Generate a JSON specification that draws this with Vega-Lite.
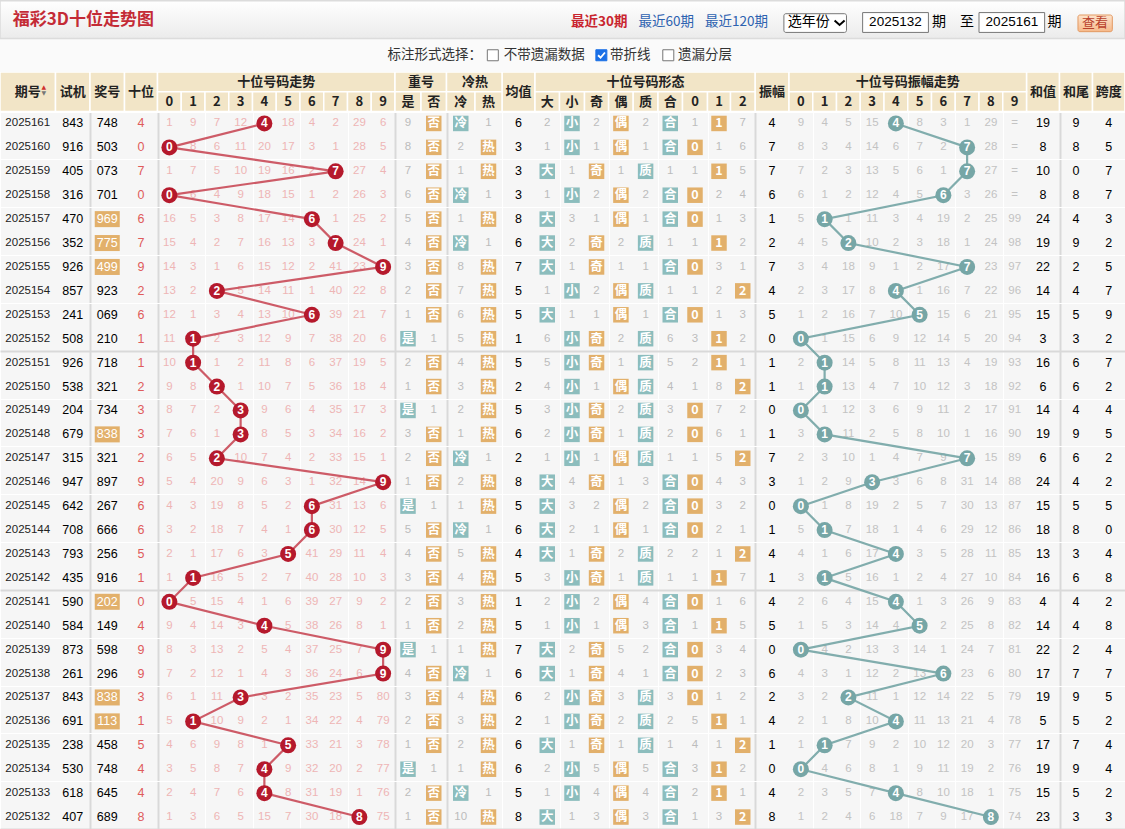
{
"$schema":"https://vega.github.io/schema/vega-lite/v6.json",
"width":1125,"height":829,"padding":0,"autosize":{"type":"none"},
"background":"#ffffff",
"config":{"view":{"stroke":null,"fill":"#f6f6f6"},"text":{"font":"Liberation Sans","baseline":"middle"}},
"datasets":{
"draws":[
{"r":0,"qh":"2025161","sj":"843","jh":"748","zx":"组六","sw":4,"jz":6,"zf":4,"hz":19,"hw":9,"kd":4},
{"r":1,"qh":"2025160","sj":"916","jh":"503","zx":"组六","sw":0,"jz":3,"zf":7,"hz":8,"hw":8,"kd":5},
{"r":2,"qh":"2025159","sj":"405","jh":"073","zx":"组六","sw":7,"jz":3,"zf":7,"hz":10,"hw":0,"kd":7},
{"r":3,"qh":"2025158","sj":"316","jh":"701","zx":"组六","sw":0,"jz":3,"zf":6,"hz":8,"hw":8,"kd":7},
{"r":4,"qh":"2025157","sj":"470","jh":"969","zx":"组三","sw":6,"jz":8,"zf":1,"hz":24,"hw":4,"kd":3},
{"r":5,"qh":"2025156","sj":"352","jh":"775","zx":"组三","sw":7,"jz":6,"zf":2,"hz":19,"hw":9,"kd":2},
{"r":6,"qh":"2025155","sj":"926","jh":"499","zx":"组三","sw":9,"jz":7,"zf":7,"hz":22,"hw":2,"kd":5},
{"r":7,"qh":"2025154","sj":"857","jh":"923","zx":"组六","sw":2,"jz":5,"zf":4,"hz":14,"hw":4,"kd":7},
{"r":8,"qh":"2025153","sj":"241","jh":"069","zx":"组六","sw":6,"jz":5,"zf":5,"hz":15,"hw":5,"kd":9},
{"r":9,"qh":"2025152","sj":"508","jh":"210","zx":"组六","sw":1,"jz":1,"zf":0,"hz":3,"hw":3,"kd":2},
{"r":10,"qh":"2025151","sj":"926","jh":"718","zx":"组六","sw":1,"jz":5,"zf":1,"hz":16,"hw":6,"kd":7},
{"r":11,"qh":"2025150","sj":"538","jh":"321","zx":"组六","sw":2,"jz":2,"zf":1,"hz":6,"hw":6,"kd":2},
{"r":12,"qh":"2025149","sj":"204","jh":"734","zx":"组六","sw":3,"jz":5,"zf":0,"hz":14,"hw":4,"kd":4},
{"r":13,"qh":"2025148","sj":"679","jh":"838","zx":"组三","sw":3,"jz":6,"zf":1,"hz":19,"hw":9,"kd":5},
{"r":14,"qh":"2025147","sj":"315","jh":"321","zx":"组六","sw":2,"jz":2,"zf":7,"hz":6,"hw":6,"kd":2},
{"r":15,"qh":"2025146","sj":"947","jh":"897","zx":"组六","sw":9,"jz":8,"zf":3,"hz":24,"hw":4,"kd":2},
{"r":16,"qh":"2025145","sj":"642","jh":"267","zx":"组六","sw":6,"jz":5,"zf":0,"hz":15,"hw":5,"kd":5},
{"r":17,"qh":"2025144","sj":"708","jh":"666","zx":"豹子","sw":6,"jz":6,"zf":1,"hz":18,"hw":8,"kd":0},
{"r":18,"qh":"2025143","sj":"793","jh":"256","zx":"组六","sw":5,"jz":4,"zf":4,"hz":13,"hw":3,"kd":4},
{"r":19,"qh":"2025142","sj":"435","jh":"916","zx":"组六","sw":1,"jz":5,"zf":1,"hz":16,"hw":6,"kd":8},
{"r":20,"qh":"2025141","sj":"590","jh":"202","zx":"组三","sw":0,"jz":1,"zf":4,"hz":4,"hw":4,"kd":2},
{"r":21,"qh":"2025140","sj":"584","jh":"149","zx":"组六","sw":4,"jz":5,"zf":5,"hz":14,"hw":4,"kd":8},
{"r":22,"qh":"2025139","sj":"873","jh":"598","zx":"组六","sw":9,"jz":7,"zf":0,"hz":22,"hw":2,"kd":4},
{"r":23,"qh":"2025138","sj":"261","jh":"296","zx":"组六","sw":9,"jz":6,"zf":6,"hz":17,"hw":7,"kd":7},
{"r":24,"qh":"2025137","sj":"843","jh":"838","zx":"组三","sw":3,"jz":6,"zf":2,"hz":19,"hw":9,"kd":5},
{"r":25,"qh":"2025136","sj":"691","jh":"113","zx":"组三","sw":1,"jz":2,"zf":4,"hz":5,"hw":5,"kd":2},
{"r":26,"qh":"2025135","sj":"238","jh":"458","zx":"组六","sw":5,"jz":6,"zf":1,"hz":17,"hw":7,"kd":4},
{"r":27,"qh":"2025134","sj":"530","jh":"748","zx":"组六","sw":4,"jz":6,"zf":0,"hz":19,"hw":9,"kd":4},
{"r":28,"qh":"2025133","sj":"618","jh":"645","zx":"组六","sw":4,"jz":5,"zf":4,"hz":15,"hw":5,"kd":2},
{"r":29,"qh":"2025132","sj":"407","jh":"689","zx":"组六","sw":8,"jz":8,"zf":8,"hz":23,"hw":3,"kd":3}
],
"hlab":[
{"lab":"期号","c":0,"c1":1,"lv":"s"},{"lab":"试机","c":1,"c1":2,"lv":"s"},{"lab":"奖号","c":2,"c1":3,"lv":"s"},{"lab":"十位","c":3,"c1":4,"lv":"s"},
{"lab":"均值","c":18,"c1":19,"lv":"s"},{"lab":"振幅","c":28,"c1":29,"lv":"s"},{"lab":"和值","c":39,"c1":40,"lv":"s"},{"lab":"和尾","c":40,"c1":41,"lv":"s"},{"lab":"跨度","c":41,"c1":42,"lv":"s"},
{"lab":"0","c":4,"c1":5,"lv":"u","g":"十位号码走势"},{"lab":"1","c":5,"c1":6,"lv":"u","g":"十位号码走势"},{"lab":"2","c":6,"c1":7,"lv":"u","g":"十位号码走势"},{"lab":"3","c":7,"c1":8,"lv":"u","g":"十位号码走势"},{"lab":"4","c":8,"c1":9,"lv":"u","g":"十位号码走势"},{"lab":"5","c":9,"c1":10,"lv":"u","g":"十位号码走势"},{"lab":"6","c":10,"c1":11,"lv":"u","g":"十位号码走势"},{"lab":"7","c":11,"c1":12,"lv":"u","g":"十位号码走势"},{"lab":"8","c":12,"c1":13,"lv":"u","g":"十位号码走势"},{"lab":"9","c":13,"c1":14,"lv":"u","g":"十位号码走势"},
{"lab":"是","c":14,"c1":15,"lv":"u","g":"重号"},{"lab":"否","c":15,"c1":16,"lv":"u","g":"重号"},
{"lab":"冷","c":16,"c1":17,"lv":"u","g":"冷热"},{"lab":"热","c":17,"c1":18,"lv":"u","g":"冷热"},
{"lab":"大","c":19,"c1":20,"lv":"u","g":"十位号码形态"},{"lab":"小","c":20,"c1":21,"lv":"u","g":"十位号码形态"},{"lab":"奇","c":21,"c1":22,"lv":"u","g":"十位号码形态"},{"lab":"偶","c":22,"c1":23,"lv":"u","g":"十位号码形态"},{"lab":"质","c":23,"c1":24,"lv":"u","g":"十位号码形态"},{"lab":"合","c":24,"c1":25,"lv":"u","g":"十位号码形态"},{"lab":"0","c":25,"c1":26,"lv":"u","g":"十位号码形态"},{"lab":"1","c":26,"c1":27,"lv":"u","g":"十位号码形态"},{"lab":"2","c":27,"c1":28,"lv":"u","g":"十位号码形态"},
{"lab":"0","c":29,"c1":30,"lv":"u","g":"十位号码振幅走势"},{"lab":"1","c":30,"c1":31,"lv":"u","g":"十位号码振幅走势"},{"lab":"2","c":31,"c1":32,"lv":"u","g":"十位号码振幅走势"},{"lab":"3","c":32,"c1":33,"lv":"u","g":"十位号码振幅走势"},{"lab":"4","c":33,"c1":34,"lv":"u","g":"十位号码振幅走势"},{"lab":"5","c":34,"c1":35,"lv":"u","g":"十位号码振幅走势"},{"lab":"6","c":35,"c1":36,"lv":"u","g":"十位号码振幅走势"},{"lab":"7","c":36,"c1":37,"lv":"u","g":"十位号码振幅走势"},{"lab":"8","c":37,"c1":38,"lv":"u","g":"十位号码振幅走势"},{"lab":"9","c":38,"c1":39,"lv":"u","g":"十位号码振幅走势"}
],
"cells":[
{"r":0,"c":4,"v":1,"k":"m"},{"r":0,"c":5,"v":9,"k":"m"},{"r":0,"c":6,"v":7,"k":"m"},{"r":0,"c":7,"v":12,"k":"m"},{"r":0,"c":8,"v":4,"k":"h"},{"r":0,"c":9,"v":18,"k":"m"},{"r":0,"c":10,"v":4,"k":"m"},{"r":0,"c":11,"v":2,"k":"m"},{"r":0,"c":12,"v":29,"k":"m"},{"r":0,"c":13,"v":6,"k":"m"},
{"r":0,"c":14,"v":9,"k":"g"},{"r":0,"c":15,"v":"否","k":"o"},{"r":0,"c":16,"v":"冷","k":"t"},{"r":0,"c":17,"v":1,"k":"g"},{"r":0,"c":19,"v":2,"k":"g"},{"r":0,"c":20,"v":"小","k":"t"},{"r":0,"c":21,"v":2,"k":"g"},{"r":0,"c":22,"v":"偶","k":"o"},{"r":0,"c":23,"v":2,"k":"g"},{"r":0,"c":24,"v":"合","k":"t"},{"r":0,"c":25,"v":1,"k":"g"},{"r":0,"c":26,"v":1,"k":"o"},{"r":0,"c":27,"v":7,"k":"g"},
{"r":0,"c":29,"v":9,"k":"a"},{"r":0,"c":30,"v":4,"k":"a"},{"r":0,"c":31,"v":5,"k":"a"},{"r":0,"c":32,"v":15,"k":"a"},{"r":0,"c":33,"v":4,"k":"ah"},{"r":0,"c":34,"v":8,"k":"a"},{"r":0,"c":35,"v":3,"k":"a"},{"r":0,"c":36,"v":1,"k":"a"},{"r":0,"c":37,"v":29,"k":"a"},{"r":0,"c":38,"v":"=","k":"a"},
{"r":1,"c":4,"v":0,"k":"h"},{"r":1,"c":5,"v":8,"k":"m"},{"r":1,"c":6,"v":6,"k":"m"},{"r":1,"c":7,"v":11,"k":"m"},{"r":1,"c":8,"v":20,"k":"m"},{"r":1,"c":9,"v":17,"k":"m"},{"r":1,"c":10,"v":3,"k":"m"},{"r":1,"c":11,"v":1,"k":"m"},{"r":1,"c":12,"v":28,"k":"m"},{"r":1,"c":13,"v":5,"k":"m"},
{"r":1,"c":14,"v":8,"k":"g"},{"r":1,"c":15,"v":"否","k":"o"},{"r":1,"c":16,"v":2,"k":"g"},{"r":1,"c":17,"v":"热","k":"o"},{"r":1,"c":19,"v":1,"k":"g"},{"r":1,"c":20,"v":"小","k":"t"},{"r":1,"c":21,"v":1,"k":"g"},{"r":1,"c":22,"v":"偶","k":"o"},{"r":1,"c":23,"v":1,"k":"g"},{"r":1,"c":24,"v":"合","k":"t"},{"r":1,"c":25,"v":0,"k":"o"},{"r":1,"c":26,"v":1,"k":"g"},{"r":1,"c":27,"v":6,"k":"g"},
{"r":1,"c":29,"v":8,"k":"a"},{"r":1,"c":30,"v":3,"k":"a"},{"r":1,"c":31,"v":4,"k":"a"},{"r":1,"c":32,"v":14,"k":"a"},{"r":1,"c":33,"v":6,"k":"a"},{"r":1,"c":34,"v":7,"k":"a"},{"r":1,"c":35,"v":2,"k":"a"},{"r":1,"c":36,"v":7,"k":"ah"},{"r":1,"c":37,"v":28,"k":"a"},{"r":1,"c":38,"v":"=","k":"a"},
{"r":2,"c":4,"v":1,"k":"m"},{"r":2,"c":5,"v":7,"k":"m"},{"r":2,"c":6,"v":5,"k":"m"},{"r":2,"c":7,"v":10,"k":"m"},{"r":2,"c":8,"v":19,"k":"m"},{"r":2,"c":9,"v":16,"k":"m"},{"r":2,"c":10,"v":2,"k":"m"},{"r":2,"c":11,"v":7,"k":"h"},{"r":2,"c":12,"v":27,"k":"m"},{"r":2,"c":13,"v":4,"k":"m"},
{"r":2,"c":14,"v":7,"k":"g"},{"r":2,"c":15,"v":"否","k":"o"},{"r":2,"c":16,"v":1,"k":"g"},{"r":2,"c":17,"v":"热","k":"o"},{"r":2,"c":19,"v":"大","k":"t"},{"r":2,"c":20,"v":1,"k":"g"},{"r":2,"c":21,"v":"奇","k":"o"},{"r":2,"c":22,"v":1,"k":"g"},{"r":2,"c":23,"v":"质","k":"t"},{"r":2,"c":24,"v":1,"k":"g"},{"r":2,"c":25,"v":1,"k":"g"},{"r":2,"c":26,"v":1,"k":"o"},{"r":2,"c":27,"v":5,"k":"g"},
{"r":2,"c":29,"v":7,"k":"a"},{"r":2,"c":30,"v":2,"k":"a"},{"r":2,"c":31,"v":3,"k":"a"},{"r":2,"c":32,"v":13,"k":"a"},{"r":2,"c":33,"v":5,"k":"a"},{"r":2,"c":34,"v":6,"k":"a"},{"r":2,"c":35,"v":1,"k":"a"},{"r":2,"c":36,"v":7,"k":"ah"},{"r":2,"c":37,"v":27,"k":"a"},{"r":2,"c":38,"v":"=","k":"a"},
{"r":3,"c":4,"v":0,"k":"h"},{"r":3,"c":5,"v":6,"k":"m"},{"r":3,"c":6,"v":4,"k":"m"},{"r":3,"c":7,"v":9,"k":"m"},{"r":3,"c":8,"v":18,"k":"m"},{"r":3,"c":9,"v":15,"k":"m"},{"r":3,"c":10,"v":1,"k":"m"},{"r":3,"c":11,"v":2,"k":"m"},{"r":3,"c":12,"v":26,"k":"m"},{"r":3,"c":13,"v":3,"k":"m"},
{"r":3,"c":14,"v":6,"k":"g"},{"r":3,"c":15,"v":"否","k":"o"},{"r":3,"c":16,"v":"冷","k":"t"},{"r":3,"c":17,"v":1,"k":"g"},{"r":3,"c":19,"v":1,"k":"g"},{"r":3,"c":20,"v":"小","k":"t"},{"r":3,"c":21,"v":2,"k":"g"},{"r":3,"c":22,"v":"偶","k":"o"},{"r":3,"c":23,"v":2,"k":"g"},{"r":3,"c":24,"v":"合","k":"t"},{"r":3,"c":25,"v":0,"k":"o"},{"r":3,"c":26,"v":2,"k":"g"},{"r":3,"c":27,"v":4,"k":"g"},
{"r":3,"c":29,"v":6,"k":"a"},{"r":3,"c":30,"v":1,"k":"a"},{"r":3,"c":31,"v":2,"k":"a"},{"r":3,"c":32,"v":12,"k":"a"},{"r":3,"c":33,"v":4,"k":"a"},{"r":3,"c":34,"v":5,"k":"a"},{"r":3,"c":35,"v":6,"k":"ah"},{"r":3,"c":36,"v":3,"k":"a"},{"r":3,"c":37,"v":26,"k":"a"},{"r":3,"c":38,"v":"=","k":"a"},
{"r":4,"c":4,"v":16,"k":"m"},{"r":4,"c":5,"v":5,"k":"m"},{"r":4,"c":6,"v":3,"k":"m"},{"r":4,"c":7,"v":8,"k":"m"},{"r":4,"c":8,"v":17,"k":"m"},{"r":4,"c":9,"v":14,"k":"m"},{"r":4,"c":10,"v":6,"k":"h"},{"r":4,"c":11,"v":1,"k":"m"},{"r":4,"c":12,"v":25,"k":"m"},{"r":4,"c":13,"v":2,"k":"m"},
{"r":4,"c":14,"v":5,"k":"g"},{"r":4,"c":15,"v":"否","k":"o"},{"r":4,"c":16,"v":1,"k":"g"},{"r":4,"c":17,"v":"热","k":"o"},{"r":4,"c":19,"v":"大","k":"t"},{"r":4,"c":20,"v":3,"k":"g"},{"r":4,"c":21,"v":1,"k":"g"},{"r":4,"c":22,"v":"偶","k":"o"},{"r":4,"c":23,"v":1,"k":"g"},{"r":4,"c":24,"v":"合","k":"t"},{"r":4,"c":25,"v":0,"k":"o"},{"r":4,"c":26,"v":1,"k":"g"},{"r":4,"c":27,"v":3,"k":"g"},
{"r":4,"c":29,"v":5,"k":"a"},{"r":4,"c":30,"v":1,"k":"ah"},{"r":4,"c":31,"v":1,"k":"a"},{"r":4,"c":32,"v":11,"k":"a"},{"r":4,"c":33,"v":3,"k":"a"},{"r":4,"c":34,"v":4,"k":"a"},{"r":4,"c":35,"v":19,"k":"a"},{"r":4,"c":36,"v":2,"k":"a"},{"r":4,"c":37,"v":25,"k":"a"},{"r":4,"c":38,"v":99,"k":"a"},
{"r":5,"c":4,"v":15,"k":"m"},{"r":5,"c":5,"v":4,"k":"m"},{"r":5,"c":6,"v":2,"k":"m"},{"r":5,"c":7,"v":7,"k":"m"},{"r":5,"c":8,"v":16,"k":"m"},{"r":5,"c":9,"v":13,"k":"m"},{"r":5,"c":10,"v":3,"k":"m"},{"r":5,"c":11,"v":7,"k":"h"},{"r":5,"c":12,"v":24,"k":"m"},{"r":5,"c":13,"v":1,"k":"m"},
{"r":5,"c":14,"v":4,"k":"g"},{"r":5,"c":15,"v":"否","k":"o"},{"r":5,"c":16,"v":"冷","k":"t"},{"r":5,"c":17,"v":1,"k":"g"},{"r":5,"c":19,"v":"大","k":"t"},{"r":5,"c":20,"v":2,"k":"g"},{"r":5,"c":21,"v":"奇","k":"o"},{"r":5,"c":22,"v":2,"k":"g"},{"r":5,"c":23,"v":"质","k":"t"},{"r":5,"c":24,"v":1,"k":"g"},{"r":5,"c":25,"v":1,"k":"g"},{"r":5,"c":26,"v":1,"k":"o"},{"r":5,"c":27,"v":2,"k":"g"},
{"r":5,"c":29,"v":4,"k":"a"},{"r":5,"c":30,"v":5,"k":"a"},{"r":5,"c":31,"v":2,"k":"ah"},{"r":5,"c":32,"v":10,"k":"a"},{"r":5,"c":33,"v":2,"k":"a"},{"r":5,"c":34,"v":3,"k":"a"},{"r":5,"c":35,"v":18,"k":"a"},{"r":5,"c":36,"v":1,"k":"a"},{"r":5,"c":37,"v":24,"k":"a"},{"r":5,"c":38,"v":98,"k":"a"},
{"r":6,"c":4,"v":14,"k":"m"},{"r":6,"c":5,"v":3,"k":"m"},{"r":6,"c":6,"v":1,"k":"m"},{"r":6,"c":7,"v":6,"k":"m"},{"r":6,"c":8,"v":15,"k":"m"},{"r":6,"c":9,"v":12,"k":"m"},{"r":6,"c":10,"v":2,"k":"m"},{"r":6,"c":11,"v":41,"k":"m"},{"r":6,"c":12,"v":23,"k":"m"},{"r":6,"c":13,"v":9,"k":"h"},
{"r":6,"c":14,"v":3,"k":"g"},{"r":6,"c":15,"v":"否","k":"o"},{"r":6,"c":16,"v":8,"k":"g"},{"r":6,"c":17,"v":"热","k":"o"},{"r":6,"c":19,"v":"大","k":"t"},{"r":6,"c":20,"v":1,"k":"g"},{"r":6,"c":21,"v":"奇","k":"o"},{"r":6,"c":22,"v":1,"k":"g"},{"r":6,"c":23,"v":1,"k":"g"},{"r":6,"c":24,"v":"合","k":"t"},{"r":6,"c":25,"v":0,"k":"o"},{"r":6,"c":26,"v":3,"k":"g"},{"r":6,"c":27,"v":1,"k":"g"},
{"r":6,"c":29,"v":3,"k":"a"},{"r":6,"c":30,"v":4,"k":"a"},{"r":6,"c":31,"v":18,"k":"a"},{"r":6,"c":32,"v":9,"k":"a"},{"r":6,"c":33,"v":1,"k":"a"},{"r":6,"c":34,"v":2,"k":"a"},{"r":6,"c":35,"v":17,"k":"a"},{"r":6,"c":36,"v":7,"k":"ah"},{"r":6,"c":37,"v":23,"k":"a"},{"r":6,"c":38,"v":97,"k":"a"},
{"r":7,"c":4,"v":13,"k":"m"},{"r":7,"c":5,"v":2,"k":"m"},{"r":7,"c":6,"v":2,"k":"h"},{"r":7,"c":7,"v":5,"k":"m"},{"r":7,"c":8,"v":14,"k":"m"},{"r":7,"c":9,"v":11,"k":"m"},{"r":7,"c":10,"v":1,"k":"m"},{"r":7,"c":11,"v":40,"k":"m"},{"r":7,"c":12,"v":22,"k":"m"},{"r":7,"c":13,"v":8,"k":"m"},
{"r":7,"c":14,"v":2,"k":"g"},{"r":7,"c":15,"v":"否","k":"o"},{"r":7,"c":16,"v":7,"k":"g"},{"r":7,"c":17,"v":"热","k":"o"},{"r":7,"c":19,"v":1,"k":"g"},{"r":7,"c":20,"v":"小","k":"t"},{"r":7,"c":21,"v":2,"k":"g"},{"r":7,"c":22,"v":"偶","k":"o"},{"r":7,"c":23,"v":"质","k":"t"},{"r":7,"c":24,"v":1,"k":"g"},{"r":7,"c":25,"v":1,"k":"g"},{"r":7,"c":26,"v":2,"k":"g"},{"r":7,"c":27,"v":2,"k":"o"},
{"r":7,"c":29,"v":2,"k":"a"},{"r":7,"c":30,"v":3,"k":"a"},{"r":7,"c":31,"v":17,"k":"a"},{"r":7,"c":32,"v":8,"k":"a"},{"r":7,"c":33,"v":4,"k":"ah"},{"r":7,"c":34,"v":1,"k":"a"},{"r":7,"c":35,"v":16,"k":"a"},{"r":7,"c":36,"v":7,"k":"a"},{"r":7,"c":37,"v":22,"k":"a"},{"r":7,"c":38,"v":96,"k":"a"},
{"r":8,"c":4,"v":12,"k":"m"},{"r":8,"c":5,"v":1,"k":"m"},{"r":8,"c":6,"v":3,"k":"m"},{"r":8,"c":7,"v":4,"k":"m"},{"r":8,"c":8,"v":13,"k":"m"},{"r":8,"c":9,"v":10,"k":"m"},{"r":8,"c":10,"v":6,"k":"h"},{"r":8,"c":11,"v":39,"k":"m"},{"r":8,"c":12,"v":21,"k":"m"},{"r":8,"c":13,"v":7,"k":"m"},
{"r":8,"c":14,"v":1,"k":"g"},{"r":8,"c":15,"v":"否","k":"o"},{"r":8,"c":16,"v":6,"k":"g"},{"r":8,"c":17,"v":"热","k":"o"},{"r":8,"c":19,"v":"大","k":"t"},{"r":8,"c":20,"v":1,"k":"g"},{"r":8,"c":21,"v":1,"k":"g"},{"r":8,"c":22,"v":"偶","k":"o"},{"r":8,"c":23,"v":1,"k":"g"},{"r":8,"c":24,"v":"合","k":"t"},{"r":8,"c":25,"v":0,"k":"o"},{"r":8,"c":26,"v":1,"k":"g"},{"r":8,"c":27,"v":3,"k":"g"},
{"r":8,"c":29,"v":1,"k":"a"},{"r":8,"c":30,"v":2,"k":"a"},{"r":8,"c":31,"v":16,"k":"a"},{"r":8,"c":32,"v":7,"k":"a"},{"r":8,"c":33,"v":10,"k":"a"},{"r":8,"c":34,"v":5,"k":"ah"},{"r":8,"c":35,"v":15,"k":"a"},{"r":8,"c":36,"v":6,"k":"a"},{"r":8,"c":37,"v":21,"k":"a"},{"r":8,"c":38,"v":95,"k":"a"},
{"r":9,"c":4,"v":11,"k":"m"},{"r":9,"c":5,"v":1,"k":"h"},{"r":9,"c":6,"v":2,"k":"m"},{"r":9,"c":7,"v":3,"k":"m"},{"r":9,"c":8,"v":12,"k":"m"},{"r":9,"c":9,"v":9,"k":"m"},{"r":9,"c":10,"v":7,"k":"m"},{"r":9,"c":11,"v":38,"k":"m"},{"r":9,"c":12,"v":20,"k":"m"},{"r":9,"c":13,"v":6,"k":"m"},
{"r":9,"c":14,"v":"是","k":"t"},{"r":9,"c":15,"v":1,"k":"g"},{"r":9,"c":16,"v":5,"k":"g"},{"r":9,"c":17,"v":"热","k":"o"},{"r":9,"c":19,"v":6,"k":"g"},{"r":9,"c":20,"v":"小","k":"t"},{"r":9,"c":21,"v":"奇","k":"o"},{"r":9,"c":22,"v":2,"k":"g"},{"r":9,"c":23,"v":"质","k":"t"},{"r":9,"c":24,"v":6,"k":"g"},{"r":9,"c":25,"v":3,"k":"g"},{"r":9,"c":26,"v":1,"k":"o"},{"r":9,"c":27,"v":2,"k":"g"},
{"r":9,"c":29,"v":0,"k":"ah"},{"r":9,"c":30,"v":1,"k":"a"},{"r":9,"c":31,"v":15,"k":"a"},{"r":9,"c":32,"v":6,"k":"a"},{"r":9,"c":33,"v":9,"k":"a"},{"r":9,"c":34,"v":12,"k":"a"},{"r":9,"c":35,"v":14,"k":"a"},{"r":9,"c":36,"v":5,"k":"a"},{"r":9,"c":37,"v":20,"k":"a"},{"r":9,"c":38,"v":94,"k":"a"},
{"r":10,"c":4,"v":10,"k":"m"},{"r":10,"c":5,"v":1,"k":"h"},{"r":10,"c":6,"v":1,"k":"m"},{"r":10,"c":7,"v":2,"k":"m"},{"r":10,"c":8,"v":11,"k":"m"},{"r":10,"c":9,"v":8,"k":"m"},{"r":10,"c":10,"v":6,"k":"m"},{"r":10,"c":11,"v":37,"k":"m"},{"r":10,"c":12,"v":19,"k":"m"},{"r":10,"c":13,"v":5,"k":"m"},
{"r":10,"c":14,"v":2,"k":"g"},{"r":10,"c":15,"v":"否","k":"o"},{"r":10,"c":16,"v":4,"k":"g"},{"r":10,"c":17,"v":"热","k":"o"},{"r":10,"c":19,"v":5,"k":"g"},{"r":10,"c":20,"v":"小","k":"t"},{"r":10,"c":21,"v":"奇","k":"o"},{"r":10,"c":22,"v":1,"k":"g"},{"r":10,"c":23,"v":"质","k":"t"},{"r":10,"c":24,"v":5,"k":"g"},{"r":10,"c":25,"v":2,"k":"g"},{"r":10,"c":26,"v":1,"k":"o"},{"r":10,"c":27,"v":1,"k":"g"},
{"r":10,"c":29,"v":2,"k":"a"},{"r":10,"c":30,"v":1,"k":"ah"},{"r":10,"c":31,"v":14,"k":"a"},{"r":10,"c":32,"v":5,"k":"a"},{"r":10,"c":33,"v":8,"k":"a"},{"r":10,"c":34,"v":11,"k":"a"},{"r":10,"c":35,"v":13,"k":"a"},{"r":10,"c":36,"v":4,"k":"a"},{"r":10,"c":37,"v":19,"k":"a"},{"r":10,"c":38,"v":93,"k":"a"},
{"r":11,"c":4,"v":9,"k":"m"},{"r":11,"c":5,"v":8,"k":"m"},{"r":11,"c":6,"v":2,"k":"h"},{"r":11,"c":7,"v":1,"k":"m"},{"r":11,"c":8,"v":10,"k":"m"},{"r":11,"c":9,"v":7,"k":"m"},{"r":11,"c":10,"v":5,"k":"m"},{"r":11,"c":11,"v":36,"k":"m"},{"r":11,"c":12,"v":18,"k":"m"},{"r":11,"c":13,"v":4,"k":"m"},
{"r":11,"c":14,"v":1,"k":"g"},{"r":11,"c":15,"v":"否","k":"o"},{"r":11,"c":16,"v":3,"k":"g"},{"r":11,"c":17,"v":"热","k":"o"},{"r":11,"c":19,"v":4,"k":"g"},{"r":11,"c":20,"v":"小","k":"t"},{"r":11,"c":21,"v":1,"k":"g"},{"r":11,"c":22,"v":"偶","k":"o"},{"r":11,"c":23,"v":"质","k":"t"},{"r":11,"c":24,"v":4,"k":"g"},{"r":11,"c":25,"v":1,"k":"g"},{"r":11,"c":26,"v":8,"k":"g"},{"r":11,"c":27,"v":2,"k":"o"},
{"r":11,"c":29,"v":1,"k":"a"},{"r":11,"c":30,"v":1,"k":"ah"},{"r":11,"c":31,"v":13,"k":"a"},{"r":11,"c":32,"v":4,"k":"a"},{"r":11,"c":33,"v":7,"k":"a"},{"r":11,"c":34,"v":10,"k":"a"},{"r":11,"c":35,"v":12,"k":"a"},{"r":11,"c":36,"v":3,"k":"a"},{"r":11,"c":37,"v":18,"k":"a"},{"r":11,"c":38,"v":92,"k":"a"},
{"r":12,"c":4,"v":8,"k":"m"},{"r":12,"c":5,"v":7,"k":"m"},{"r":12,"c":6,"v":2,"k":"m"},{"r":12,"c":7,"v":3,"k":"h"},{"r":12,"c":8,"v":9,"k":"m"},{"r":12,"c":9,"v":6,"k":"m"},{"r":12,"c":10,"v":4,"k":"m"},{"r":12,"c":11,"v":35,"k":"m"},{"r":12,"c":12,"v":17,"k":"m"},{"r":12,"c":13,"v":3,"k":"m"},
{"r":12,"c":14,"v":"是","k":"t"},{"r":12,"c":15,"v":1,"k":"g"},{"r":12,"c":16,"v":2,"k":"g"},{"r":12,"c":17,"v":"热","k":"o"},{"r":12,"c":19,"v":3,"k":"g"},{"r":12,"c":20,"v":"小","k":"t"},{"r":12,"c":21,"v":"奇","k":"o"},{"r":12,"c":22,"v":2,"k":"g"},{"r":12,"c":23,"v":"质","k":"t"},{"r":12,"c":24,"v":3,"k":"g"},{"r":12,"c":25,"v":0,"k":"o"},{"r":12,"c":26,"v":7,"k":"g"},{"r":12,"c":27,"v":2,"k":"g"},
{"r":12,"c":29,"v":0,"k":"ah"},{"r":12,"c":30,"v":1,"k":"a"},{"r":12,"c":31,"v":12,"k":"a"},{"r":12,"c":32,"v":3,"k":"a"},{"r":12,"c":33,"v":6,"k":"a"},{"r":12,"c":34,"v":9,"k":"a"},{"r":12,"c":35,"v":11,"k":"a"},{"r":12,"c":36,"v":2,"k":"a"},{"r":12,"c":37,"v":17,"k":"a"},{"r":12,"c":38,"v":91,"k":"a"},
{"r":13,"c":4,"v":7,"k":"m"},{"r":13,"c":5,"v":6,"k":"m"},{"r":13,"c":6,"v":1,"k":"m"},{"r":13,"c":7,"v":3,"k":"h"},{"r":13,"c":8,"v":8,"k":"m"},{"r":13,"c":9,"v":5,"k":"m"},{"r":13,"c":10,"v":3,"k":"m"},{"r":13,"c":11,"v":34,"k":"m"},{"r":13,"c":12,"v":16,"k":"m"},{"r":13,"c":13,"v":2,"k":"m"},
{"r":13,"c":14,"v":3,"k":"g"},{"r":13,"c":15,"v":"否","k":"o"},{"r":13,"c":16,"v":1,"k":"g"},{"r":13,"c":17,"v":"热","k":"o"},{"r":13,"c":19,"v":2,"k":"g"},{"r":13,"c":20,"v":"小","k":"t"},{"r":13,"c":21,"v":"奇","k":"o"},{"r":13,"c":22,"v":1,"k":"g"},{"r":13,"c":23,"v":"质","k":"t"},{"r":13,"c":24,"v":2,"k":"g"},{"r":13,"c":25,"v":0,"k":"o"},{"r":13,"c":26,"v":6,"k":"g"},{"r":13,"c":27,"v":1,"k":"g"},
{"r":13,"c":29,"v":3,"k":"a"},{"r":13,"c":30,"v":1,"k":"ah"},{"r":13,"c":31,"v":11,"k":"a"},{"r":13,"c":32,"v":2,"k":"a"},{"r":13,"c":33,"v":5,"k":"a"},{"r":13,"c":34,"v":8,"k":"a"},{"r":13,"c":35,"v":10,"k":"a"},{"r":13,"c":36,"v":1,"k":"a"},{"r":13,"c":37,"v":16,"k":"a"},{"r":13,"c":38,"v":90,"k":"a"},
{"r":14,"c":4,"v":6,"k":"m"},{"r":14,"c":5,"v":5,"k":"m"},{"r":14,"c":6,"v":2,"k":"h"},{"r":14,"c":7,"v":10,"k":"m"},{"r":14,"c":8,"v":7,"k":"m"},{"r":14,"c":9,"v":4,"k":"m"},{"r":14,"c":10,"v":2,"k":"m"},{"r":14,"c":11,"v":33,"k":"m"},{"r":14,"c":12,"v":15,"k":"m"},{"r":14,"c":13,"v":1,"k":"m"},
{"r":14,"c":14,"v":2,"k":"g"},{"r":14,"c":15,"v":"否","k":"o"},{"r":14,"c":16,"v":"冷","k":"t"},{"r":14,"c":17,"v":1,"k":"g"},{"r":14,"c":19,"v":1,"k":"g"},{"r":14,"c":20,"v":"小","k":"t"},{"r":14,"c":21,"v":1,"k":"g"},{"r":14,"c":22,"v":"偶","k":"o"},{"r":14,"c":23,"v":"质","k":"t"},{"r":14,"c":24,"v":1,"k":"g"},{"r":14,"c":25,"v":1,"k":"g"},{"r":14,"c":26,"v":5,"k":"g"},{"r":14,"c":27,"v":2,"k":"o"},
{"r":14,"c":29,"v":2,"k":"a"},{"r":14,"c":30,"v":3,"k":"a"},{"r":14,"c":31,"v":10,"k":"a"},{"r":14,"c":32,"v":1,"k":"a"},{"r":14,"c":33,"v":4,"k":"a"},{"r":14,"c":34,"v":7,"k":"a"},{"r":14,"c":35,"v":9,"k":"a"},{"r":14,"c":36,"v":7,"k":"ah"},{"r":14,"c":37,"v":15,"k":"a"},{"r":14,"c":38,"v":89,"k":"a"},
{"r":15,"c":4,"v":5,"k":"m"},{"r":15,"c":5,"v":4,"k":"m"},{"r":15,"c":6,"v":20,"k":"m"},{"r":15,"c":7,"v":9,"k":"m"},{"r":15,"c":8,"v":6,"k":"m"},{"r":15,"c":9,"v":3,"k":"m"},{"r":15,"c":10,"v":1,"k":"m"},{"r":15,"c":11,"v":32,"k":"m"},{"r":15,"c":12,"v":14,"k":"m"},{"r":15,"c":13,"v":9,"k":"h"},
{"r":15,"c":14,"v":1,"k":"g"},{"r":15,"c":15,"v":"否","k":"o"},{"r":15,"c":16,"v":2,"k":"g"},{"r":15,"c":17,"v":"热","k":"o"},{"r":15,"c":19,"v":"大","k":"t"},{"r":15,"c":20,"v":4,"k":"g"},{"r":15,"c":21,"v":"奇","k":"o"},{"r":15,"c":22,"v":1,"k":"g"},{"r":15,"c":23,"v":3,"k":"g"},{"r":15,"c":24,"v":"合","k":"t"},{"r":15,"c":25,"v":0,"k":"o"},{"r":15,"c":26,"v":4,"k":"g"},{"r":15,"c":27,"v":3,"k":"g"},
{"r":15,"c":29,"v":1,"k":"a"},{"r":15,"c":30,"v":2,"k":"a"},{"r":15,"c":31,"v":9,"k":"a"},{"r":15,"c":32,"v":3,"k":"ah"},{"r":15,"c":33,"v":3,"k":"a"},{"r":15,"c":34,"v":6,"k":"a"},{"r":15,"c":35,"v":8,"k":"a"},{"r":15,"c":36,"v":31,"k":"a"},{"r":15,"c":37,"v":14,"k":"a"},{"r":15,"c":38,"v":88,"k":"a"},
{"r":16,"c":4,"v":4,"k":"m"},{"r":16,"c":5,"v":3,"k":"m"},{"r":16,"c":6,"v":19,"k":"m"},{"r":16,"c":7,"v":8,"k":"m"},{"r":16,"c":8,"v":5,"k":"m"},{"r":16,"c":9,"v":2,"k":"m"},{"r":16,"c":10,"v":6,"k":"h"},{"r":16,"c":11,"v":31,"k":"m"},{"r":16,"c":12,"v":13,"k":"m"},{"r":16,"c":13,"v":6,"k":"m"},
{"r":16,"c":14,"v":"是","k":"t"},{"r":16,"c":15,"v":1,"k":"g"},{"r":16,"c":16,"v":1,"k":"g"},{"r":16,"c":17,"v":"热","k":"o"},{"r":16,"c":19,"v":"大","k":"t"},{"r":16,"c":20,"v":3,"k":"g"},{"r":16,"c":21,"v":2,"k":"g"},{"r":16,"c":22,"v":"偶","k":"o"},{"r":16,"c":23,"v":2,"k":"g"},{"r":16,"c":24,"v":"合","k":"t"},{"r":16,"c":25,"v":0,"k":"o"},{"r":16,"c":26,"v":3,"k":"g"},{"r":16,"c":27,"v":2,"k":"g"},
{"r":16,"c":29,"v":0,"k":"ah"},{"r":16,"c":30,"v":1,"k":"a"},{"r":16,"c":31,"v":8,"k":"a"},{"r":16,"c":32,"v":19,"k":"a"},{"r":16,"c":33,"v":2,"k":"a"},{"r":16,"c":34,"v":5,"k":"a"},{"r":16,"c":35,"v":7,"k":"a"},{"r":16,"c":36,"v":30,"k":"a"},{"r":16,"c":37,"v":13,"k":"a"},{"r":16,"c":38,"v":87,"k":"a"},
{"r":17,"c":4,"v":3,"k":"m"},{"r":17,"c":5,"v":2,"k":"m"},{"r":17,"c":6,"v":18,"k":"m"},{"r":17,"c":7,"v":7,"k":"m"},{"r":17,"c":8,"v":4,"k":"m"},{"r":17,"c":9,"v":1,"k":"m"},{"r":17,"c":10,"v":6,"k":"h"},{"r":17,"c":11,"v":30,"k":"m"},{"r":17,"c":12,"v":12,"k":"m"},{"r":17,"c":13,"v":5,"k":"m"},
{"r":17,"c":14,"v":5,"k":"g"},{"r":17,"c":15,"v":"否","k":"o"},{"r":17,"c":16,"v":"冷","k":"t"},{"r":17,"c":17,"v":1,"k":"g"},{"r":17,"c":19,"v":"大","k":"t"},{"r":17,"c":20,"v":2,"k":"g"},{"r":17,"c":21,"v":1,"k":"g"},{"r":17,"c":22,"v":"偶","k":"o"},{"r":17,"c":23,"v":1,"k":"g"},{"r":17,"c":24,"v":"合","k":"t"},{"r":17,"c":25,"v":0,"k":"o"},{"r":17,"c":26,"v":2,"k":"g"},{"r":17,"c":27,"v":1,"k":"g"},
{"r":17,"c":29,"v":5,"k":"a"},{"r":17,"c":30,"v":1,"k":"ah"},{"r":17,"c":31,"v":7,"k":"a"},{"r":17,"c":32,"v":18,"k":"a"},{"r":17,"c":33,"v":1,"k":"a"},{"r":17,"c":34,"v":4,"k":"a"},{"r":17,"c":35,"v":6,"k":"a"},{"r":17,"c":36,"v":29,"k":"a"},{"r":17,"c":37,"v":12,"k":"a"},{"r":17,"c":38,"v":86,"k":"a"},
{"r":18,"c":4,"v":2,"k":"m"},{"r":18,"c":5,"v":1,"k":"m"},{"r":18,"c":6,"v":17,"k":"m"},{"r":18,"c":7,"v":6,"k":"m"},{"r":18,"c":8,"v":3,"k":"m"},{"r":18,"c":9,"v":5,"k":"h"},{"r":18,"c":10,"v":41,"k":"m"},{"r":18,"c":11,"v":29,"k":"m"},{"r":18,"c":12,"v":11,"k":"m"},{"r":18,"c":13,"v":4,"k":"m"},
{"r":18,"c":14,"v":4,"k":"g"},{"r":18,"c":15,"v":"否","k":"o"},{"r":18,"c":16,"v":5,"k":"g"},{"r":18,"c":17,"v":"热","k":"o"},{"r":18,"c":19,"v":"大","k":"t"},{"r":18,"c":20,"v":1,"k":"g"},{"r":18,"c":21,"v":"奇","k":"o"},{"r":18,"c":22,"v":2,"k":"g"},{"r":18,"c":23,"v":"质","k":"t"},{"r":18,"c":24,"v":2,"k":"g"},{"r":18,"c":25,"v":2,"k":"g"},{"r":18,"c":26,"v":1,"k":"g"},{"r":18,"c":27,"v":2,"k":"o"},
{"r":18,"c":29,"v":4,"k":"a"},{"r":18,"c":30,"v":1,"k":"a"},{"r":18,"c":31,"v":6,"k":"a"},{"r":18,"c":32,"v":17,"k":"a"},{"r":18,"c":33,"v":4,"k":"ah"},{"r":18,"c":34,"v":3,"k":"a"},{"r":18,"c":35,"v":5,"k":"a"},{"r":18,"c":36,"v":28,"k":"a"},{"r":18,"c":37,"v":11,"k":"a"},{"r":18,"c":38,"v":85,"k":"a"},
{"r":19,"c":4,"v":1,"k":"m"},{"r":19,"c":5,"v":1,"k":"h"},{"r":19,"c":6,"v":16,"k":"m"},{"r":19,"c":7,"v":5,"k":"m"},{"r":19,"c":8,"v":2,"k":"m"},{"r":19,"c":9,"v":7,"k":"m"},{"r":19,"c":10,"v":40,"k":"m"},{"r":19,"c":11,"v":28,"k":"m"},{"r":19,"c":12,"v":10,"k":"m"},{"r":19,"c":13,"v":3,"k":"m"},
{"r":19,"c":14,"v":3,"k":"g"},{"r":19,"c":15,"v":"否","k":"o"},{"r":19,"c":16,"v":4,"k":"g"},{"r":19,"c":17,"v":"热","k":"o"},{"r":19,"c":19,"v":3,"k":"g"},{"r":19,"c":20,"v":"小","k":"t"},{"r":19,"c":21,"v":"奇","k":"o"},{"r":19,"c":22,"v":1,"k":"g"},{"r":19,"c":23,"v":"质","k":"t"},{"r":19,"c":24,"v":1,"k":"g"},{"r":19,"c":25,"v":1,"k":"g"},{"r":19,"c":26,"v":1,"k":"o"},{"r":19,"c":27,"v":7,"k":"g"},
{"r":19,"c":29,"v":3,"k":"a"},{"r":19,"c":30,"v":1,"k":"ah"},{"r":19,"c":31,"v":5,"k":"a"},{"r":19,"c":32,"v":16,"k":"a"},{"r":19,"c":33,"v":1,"k":"a"},{"r":19,"c":34,"v":2,"k":"a"},{"r":19,"c":35,"v":4,"k":"a"},{"r":19,"c":36,"v":27,"k":"a"},{"r":19,"c":37,"v":10,"k":"a"},{"r":19,"c":38,"v":84,"k":"a"},
{"r":20,"c":4,"v":0,"k":"h"},{"r":20,"c":5,"v":5,"k":"m"},{"r":20,"c":6,"v":15,"k":"m"},{"r":20,"c":7,"v":4,"k":"m"},{"r":20,"c":8,"v":1,"k":"m"},{"r":20,"c":9,"v":6,"k":"m"},{"r":20,"c":10,"v":39,"k":"m"},{"r":20,"c":11,"v":27,"k":"m"},{"r":20,"c":12,"v":9,"k":"m"},{"r":20,"c":13,"v":2,"k":"m"},
{"r":20,"c":14,"v":2,"k":"g"},{"r":20,"c":15,"v":"否","k":"o"},{"r":20,"c":16,"v":3,"k":"g"},{"r":20,"c":17,"v":"热","k":"o"},{"r":20,"c":19,"v":2,"k":"g"},{"r":20,"c":20,"v":"小","k":"t"},{"r":20,"c":21,"v":2,"k":"g"},{"r":20,"c":22,"v":"偶","k":"o"},{"r":20,"c":23,"v":4,"k":"g"},{"r":20,"c":24,"v":"合","k":"t"},{"r":20,"c":25,"v":0,"k":"o"},{"r":20,"c":26,"v":1,"k":"g"},{"r":20,"c":27,"v":6,"k":"g"},
{"r":20,"c":29,"v":2,"k":"a"},{"r":20,"c":30,"v":6,"k":"a"},{"r":20,"c":31,"v":4,"k":"a"},{"r":20,"c":32,"v":15,"k":"a"},{"r":20,"c":33,"v":4,"k":"ah"},{"r":20,"c":34,"v":1,"k":"a"},{"r":20,"c":35,"v":3,"k":"a"},{"r":20,"c":36,"v":26,"k":"a"},{"r":20,"c":37,"v":9,"k":"a"},{"r":20,"c":38,"v":83,"k":"a"},
{"r":21,"c":4,"v":9,"k":"m"},{"r":21,"c":5,"v":4,"k":"m"},{"r":21,"c":6,"v":14,"k":"m"},{"r":21,"c":7,"v":3,"k":"m"},{"r":21,"c":8,"v":4,"k":"h"},{"r":21,"c":9,"v":5,"k":"m"},{"r":21,"c":10,"v":38,"k":"m"},{"r":21,"c":11,"v":26,"k":"m"},{"r":21,"c":12,"v":8,"k":"m"},{"r":21,"c":13,"v":1,"k":"m"},
{"r":21,"c":14,"v":1,"k":"g"},{"r":21,"c":15,"v":"否","k":"o"},{"r":21,"c":16,"v":2,"k":"g"},{"r":21,"c":17,"v":"热","k":"o"},{"r":21,"c":19,"v":1,"k":"g"},{"r":21,"c":20,"v":"小","k":"t"},{"r":21,"c":21,"v":1,"k":"g"},{"r":21,"c":22,"v":"偶","k":"o"},{"r":21,"c":23,"v":3,"k":"g"},{"r":21,"c":24,"v":"合","k":"t"},{"r":21,"c":25,"v":1,"k":"g"},{"r":21,"c":26,"v":1,"k":"o"},{"r":21,"c":27,"v":5,"k":"g"},
{"r":21,"c":29,"v":1,"k":"a"},{"r":21,"c":30,"v":5,"k":"a"},{"r":21,"c":31,"v":3,"k":"a"},{"r":21,"c":32,"v":14,"k":"a"},{"r":21,"c":33,"v":4,"k":"a"},{"r":21,"c":34,"v":5,"k":"ah"},{"r":21,"c":35,"v":2,"k":"a"},{"r":21,"c":36,"v":25,"k":"a"},{"r":21,"c":37,"v":8,"k":"a"},{"r":21,"c":38,"v":82,"k":"a"},
{"r":22,"c":4,"v":8,"k":"m"},{"r":22,"c":5,"v":3,"k":"m"},{"r":22,"c":6,"v":13,"k":"m"},{"r":22,"c":7,"v":2,"k":"m"},{"r":22,"c":8,"v":5,"k":"m"},{"r":22,"c":9,"v":4,"k":"m"},{"r":22,"c":10,"v":37,"k":"m"},{"r":22,"c":11,"v":25,"k":"m"},{"r":22,"c":12,"v":7,"k":"m"},{"r":22,"c":13,"v":9,"k":"h"},
{"r":22,"c":14,"v":"是","k":"t"},{"r":22,"c":15,"v":1,"k":"g"},{"r":22,"c":16,"v":1,"k":"g"},{"r":22,"c":17,"v":"热","k":"o"},{"r":22,"c":19,"v":"大","k":"t"},{"r":22,"c":20,"v":2,"k":"g"},{"r":22,"c":21,"v":"奇","k":"o"},{"r":22,"c":22,"v":5,"k":"g"},{"r":22,"c":23,"v":2,"k":"g"},{"r":22,"c":24,"v":"合","k":"t"},{"r":22,"c":25,"v":0,"k":"o"},{"r":22,"c":26,"v":3,"k":"g"},{"r":22,"c":27,"v":4,"k":"g"},
{"r":22,"c":29,"v":0,"k":"ah"},{"r":22,"c":30,"v":4,"k":"a"},{"r":22,"c":31,"v":2,"k":"a"},{"r":22,"c":32,"v":13,"k":"a"},{"r":22,"c":33,"v":3,"k":"a"},{"r":22,"c":34,"v":14,"k":"a"},{"r":22,"c":35,"v":1,"k":"a"},{"r":22,"c":36,"v":24,"k":"a"},{"r":22,"c":37,"v":7,"k":"a"},{"r":22,"c":38,"v":81,"k":"a"},
{"r":23,"c":4,"v":7,"k":"m"},{"r":23,"c":5,"v":2,"k":"m"},{"r":23,"c":6,"v":12,"k":"m"},{"r":23,"c":7,"v":1,"k":"m"},{"r":23,"c":8,"v":4,"k":"m"},{"r":23,"c":9,"v":3,"k":"m"},{"r":23,"c":10,"v":36,"k":"m"},{"r":23,"c":11,"v":24,"k":"m"},{"r":23,"c":12,"v":6,"k":"m"},{"r":23,"c":13,"v":9,"k":"h"},
{"r":23,"c":14,"v":4,"k":"g"},{"r":23,"c":15,"v":"否","k":"o"},{"r":23,"c":16,"v":"冷","k":"t"},{"r":23,"c":17,"v":1,"k":"g"},{"r":23,"c":19,"v":"大","k":"t"},{"r":23,"c":20,"v":1,"k":"g"},{"r":23,"c":21,"v":"奇","k":"o"},{"r":23,"c":22,"v":4,"k":"g"},{"r":23,"c":23,"v":1,"k":"g"},{"r":23,"c":24,"v":"合","k":"t"},{"r":23,"c":25,"v":0,"k":"o"},{"r":23,"c":26,"v":2,"k":"g"},{"r":23,"c":27,"v":3,"k":"g"},
{"r":23,"c":29,"v":4,"k":"a"},{"r":23,"c":30,"v":3,"k":"a"},{"r":23,"c":31,"v":1,"k":"a"},{"r":23,"c":32,"v":12,"k":"a"},{"r":23,"c":33,"v":2,"k":"a"},{"r":23,"c":34,"v":13,"k":"a"},{"r":23,"c":35,"v":6,"k":"ah"},{"r":23,"c":36,"v":23,"k":"a"},{"r":23,"c":37,"v":6,"k":"a"},{"r":23,"c":38,"v":80,"k":"a"},
{"r":24,"c":4,"v":6,"k":"m"},{"r":24,"c":5,"v":1,"k":"m"},{"r":24,"c":6,"v":11,"k":"m"},{"r":24,"c":7,"v":3,"k":"h"},{"r":24,"c":8,"v":3,"k":"m"},{"r":24,"c":9,"v":2,"k":"m"},{"r":24,"c":10,"v":35,"k":"m"},{"r":24,"c":11,"v":23,"k":"m"},{"r":24,"c":12,"v":5,"k":"m"},{"r":24,"c":13,"v":80,"k":"m"},
{"r":24,"c":14,"v":3,"k":"g"},{"r":24,"c":15,"v":"否","k":"o"},{"r":24,"c":16,"v":4,"k":"g"},{"r":24,"c":17,"v":"热","k":"o"},{"r":24,"c":19,"v":2,"k":"g"},{"r":24,"c":20,"v":"小","k":"t"},{"r":24,"c":21,"v":"奇","k":"o"},{"r":24,"c":22,"v":3,"k":"g"},{"r":24,"c":23,"v":"质","k":"t"},{"r":24,"c":24,"v":3,"k":"g"},{"r":24,"c":25,"v":0,"k":"o"},{"r":24,"c":26,"v":1,"k":"g"},{"r":24,"c":27,"v":2,"k":"g"},
{"r":24,"c":29,"v":3,"k":"a"},{"r":24,"c":30,"v":2,"k":"a"},{"r":24,"c":31,"v":2,"k":"ah"},{"r":24,"c":32,"v":11,"k":"a"},{"r":24,"c":33,"v":1,"k":"a"},{"r":24,"c":34,"v":12,"k":"a"},{"r":24,"c":35,"v":14,"k":"a"},{"r":24,"c":36,"v":22,"k":"a"},{"r":24,"c":37,"v":5,"k":"a"},{"r":24,"c":38,"v":79,"k":"a"},
{"r":25,"c":4,"v":5,"k":"m"},{"r":25,"c":5,"v":1,"k":"h"},{"r":25,"c":6,"v":10,"k":"m"},{"r":25,"c":7,"v":9,"k":"m"},{"r":25,"c":8,"v":2,"k":"m"},{"r":25,"c":9,"v":1,"k":"m"},{"r":25,"c":10,"v":34,"k":"m"},{"r":25,"c":11,"v":22,"k":"m"},{"r":25,"c":12,"v":4,"k":"m"},{"r":25,"c":13,"v":79,"k":"m"},
{"r":25,"c":14,"v":2,"k":"g"},{"r":25,"c":15,"v":"否","k":"o"},{"r":25,"c":16,"v":3,"k":"g"},{"r":25,"c":17,"v":"热","k":"o"},{"r":25,"c":19,"v":1,"k":"g"},{"r":25,"c":20,"v":"小","k":"t"},{"r":25,"c":21,"v":"奇","k":"o"},{"r":25,"c":22,"v":2,"k":"g"},{"r":25,"c":23,"v":"质","k":"t"},{"r":25,"c":24,"v":2,"k":"g"},{"r":25,"c":25,"v":5,"k":"g"},{"r":25,"c":26,"v":1,"k":"o"},{"r":25,"c":27,"v":1,"k":"g"},
{"r":25,"c":29,"v":2,"k":"a"},{"r":25,"c":30,"v":1,"k":"a"},{"r":25,"c":31,"v":8,"k":"a"},{"r":25,"c":32,"v":10,"k":"a"},{"r":25,"c":33,"v":4,"k":"ah"},{"r":25,"c":34,"v":11,"k":"a"},{"r":25,"c":35,"v":13,"k":"a"},{"r":25,"c":36,"v":21,"k":"a"},{"r":25,"c":37,"v":4,"k":"a"},{"r":25,"c":38,"v":78,"k":"a"},
{"r":26,"c":4,"v":4,"k":"m"},{"r":26,"c":5,"v":6,"k":"m"},{"r":26,"c":6,"v":9,"k":"m"},{"r":26,"c":7,"v":8,"k":"m"},{"r":26,"c":8,"v":1,"k":"m"},{"r":26,"c":9,"v":5,"k":"h"},{"r":26,"c":10,"v":33,"k":"m"},{"r":26,"c":11,"v":21,"k":"m"},{"r":26,"c":12,"v":3,"k":"m"},{"r":26,"c":13,"v":78,"k":"m"},
{"r":26,"c":14,"v":1,"k":"g"},{"r":26,"c":15,"v":"否","k":"o"},{"r":26,"c":16,"v":2,"k":"g"},{"r":26,"c":17,"v":"热","k":"o"},{"r":26,"c":19,"v":"大","k":"t"},{"r":26,"c":20,"v":1,"k":"g"},{"r":26,"c":21,"v":"奇","k":"o"},{"r":26,"c":22,"v":1,"k":"g"},{"r":26,"c":23,"v":"质","k":"t"},{"r":26,"c":24,"v":1,"k":"g"},{"r":26,"c":25,"v":4,"k":"g"},{"r":26,"c":26,"v":1,"k":"g"},{"r":26,"c":27,"v":2,"k":"o"},
{"r":26,"c":29,"v":1,"k":"a"},{"r":26,"c":30,"v":1,"k":"ah"},{"r":26,"c":31,"v":7,"k":"a"},{"r":26,"c":32,"v":9,"k":"a"},{"r":26,"c":33,"v":2,"k":"a"},{"r":26,"c":34,"v":10,"k":"a"},{"r":26,"c":35,"v":12,"k":"a"},{"r":26,"c":36,"v":20,"k":"a"},{"r":26,"c":37,"v":3,"k":"a"},{"r":26,"c":38,"v":77,"k":"a"},
{"r":27,"c":4,"v":3,"k":"m"},{"r":27,"c":5,"v":5,"k":"m"},{"r":27,"c":6,"v":8,"k":"m"},{"r":27,"c":7,"v":7,"k":"m"},{"r":27,"c":8,"v":4,"k":"h"},{"r":27,"c":9,"v":9,"k":"m"},{"r":27,"c":10,"v":32,"k":"m"},{"r":27,"c":11,"v":20,"k":"m"},{"r":27,"c":12,"v":2,"k":"m"},{"r":27,"c":13,"v":77,"k":"m"},
{"r":27,"c":14,"v":"是","k":"t"},{"r":27,"c":15,"v":1,"k":"g"},{"r":27,"c":16,"v":1,"k":"g"},{"r":27,"c":17,"v":"热","k":"o"},{"r":27,"c":19,"v":2,"k":"g"},{"r":27,"c":20,"v":"小","k":"t"},{"r":27,"c":21,"v":5,"k":"g"},{"r":27,"c":22,"v":"偶","k":"o"},{"r":27,"c":23,"v":5,"k":"g"},{"r":27,"c":24,"v":"合","k":"t"},{"r":27,"c":25,"v":3,"k":"g"},{"r":27,"c":26,"v":1,"k":"o"},{"r":27,"c":27,"v":2,"k":"g"},
{"r":27,"c":29,"v":0,"k":"ah"},{"r":27,"c":30,"v":4,"k":"a"},{"r":27,"c":31,"v":6,"k":"a"},{"r":27,"c":32,"v":8,"k":"a"},{"r":27,"c":33,"v":1,"k":"a"},{"r":27,"c":34,"v":9,"k":"a"},{"r":27,"c":35,"v":11,"k":"a"},{"r":27,"c":36,"v":19,"k":"a"},{"r":27,"c":37,"v":2,"k":"a"},{"r":27,"c":38,"v":76,"k":"a"},
{"r":28,"c":4,"v":2,"k":"m"},{"r":28,"c":5,"v":4,"k":"m"},{"r":28,"c":6,"v":7,"k":"m"},{"r":28,"c":7,"v":6,"k":"m"},{"r":28,"c":8,"v":4,"k":"h"},{"r":28,"c":9,"v":8,"k":"m"},{"r":28,"c":10,"v":31,"k":"m"},{"r":28,"c":11,"v":19,"k":"m"},{"r":28,"c":12,"v":1,"k":"m"},{"r":28,"c":13,"v":76,"k":"m"},
{"r":28,"c":14,"v":2,"k":"g"},{"r":28,"c":15,"v":"否","k":"o"},{"r":28,"c":16,"v":"冷","k":"t"},{"r":28,"c":17,"v":1,"k":"g"},{"r":28,"c":19,"v":1,"k":"g"},{"r":28,"c":20,"v":"小","k":"t"},{"r":28,"c":21,"v":4,"k":"g"},{"r":28,"c":22,"v":"偶","k":"o"},{"r":28,"c":23,"v":4,"k":"g"},{"r":28,"c":24,"v":"合","k":"t"},{"r":28,"c":25,"v":2,"k":"g"},{"r":28,"c":26,"v":1,"k":"o"},{"r":28,"c":27,"v":1,"k":"g"},
{"r":28,"c":29,"v":2,"k":"a"},{"r":28,"c":30,"v":3,"k":"a"},{"r":28,"c":31,"v":5,"k":"a"},{"r":28,"c":32,"v":7,"k":"a"},{"r":28,"c":33,"v":4,"k":"ah"},{"r":28,"c":34,"v":8,"k":"a"},{"r":28,"c":35,"v":10,"k":"a"},{"r":28,"c":36,"v":18,"k":"a"},{"r":28,"c":37,"v":1,"k":"a"},{"r":28,"c":38,"v":75,"k":"a"},
{"r":29,"c":4,"v":1,"k":"m"},{"r":29,"c":5,"v":3,"k":"m"},{"r":29,"c":6,"v":6,"k":"m"},{"r":29,"c":7,"v":5,"k":"m"},{"r":29,"c":8,"v":15,"k":"m"},{"r":29,"c":9,"v":7,"k":"m"},{"r":29,"c":10,"v":30,"k":"m"},{"r":29,"c":11,"v":18,"k":"m"},{"r":29,"c":12,"v":8,"k":"h"},{"r":29,"c":13,"v":75,"k":"m"},
{"r":29,"c":14,"v":1,"k":"g"},{"r":29,"c":15,"v":"否","k":"o"},{"r":29,"c":16,"v":10,"k":"g"},{"r":29,"c":17,"v":"热","k":"o"},{"r":29,"c":19,"v":"大","k":"t"},{"r":29,"c":20,"v":1,"k":"g"},{"r":29,"c":21,"v":3,"k":"g"},{"r":29,"c":22,"v":"偶","k":"o"},{"r":29,"c":23,"v":3,"k":"g"},{"r":29,"c":24,"v":"合","k":"t"},{"r":29,"c":25,"v":1,"k":"g"},{"r":29,"c":26,"v":3,"k":"g"},{"r":29,"c":27,"v":2,"k":"o"},
{"r":29,"c":29,"v":1,"k":"a"},{"r":29,"c":30,"v":2,"k":"a"},{"r":29,"c":31,"v":4,"k":"a"},{"r":29,"c":32,"v":6,"k":"a"},{"r":29,"c":33,"v":18,"k":"a"},{"r":29,"c":34,"v":7,"k":"a"},{"r":29,"c":35,"v":9,"k":"a"},{"r":29,"c":36,"v":17,"k":"a"},{"r":29,"c":37,"v":8,"k":"ah"},{"r":29,"c":38,"v":74,"k":"a"}
]
},
"layer":[
{"layer":[
{"data":{"name":"hlab"},"transform":[{"filter":"datum.lv==='s'"}],
 "mark":{"type":"rect","fill":"#f2e5c7","stroke":"#ffffff","strokeWidth":1.5},
 "encoding":{
  "x":{"field":"c","type":"quantitative","axis":null,"scale":{"domain":[0,1,2,3,4,5,6,7,8,9,10,11,12,13,14,15,16,17,18,19,20,21,22,23,24,25,26,27,28,29,30,31,32,33,34,35,36,37,38,39,40,41,42],"range":[0,55.5,90,124.5,157.5,181.25,205,228.75,252.5,276.25,300,323.75,347.5,371.25,395,421,446.5,475,502,535,559.5,584.5,608.6,633.2,658,682.5,707.5,730.5,755,789,812.75,836.5,860.25,884,907.75,931.5,955.25,979,1002.75,1026.5,1059.5,1092.5,1125],"nice":false,"zero":false}},
  "x2":{"field":"c1"},
  "y":{"datum":-2.5,"type":"quantitative","scale":{"domain":[-4.5,-3.5,-2.5,-0.5,29.5],"range":[0,38.5,72,111.5,829],"nice":false,"zero":false}},
  "y2":{"datum":-0.5}}},
{"data":{"name":"hlab"},"transform":[{"filter":"datum.lv==='u'"},{"aggregate":[{"op":"min","field":"c","as":"c0"},{"op":"max","field":"c1","as":"ce"}],"groupby":["g"]}],
 "mark":{"type":"rect","fill":"#f2e5c7","stroke":"#ffffff","strokeWidth":1.5},
 "encoding":{"x":{"field":"c0","type":"quantitative","axis":null},"x2":{"field":"ce"},"y":{"datum":-2.5,"type":"quantitative"},"y2":{"datum":-1.5}}},
{"data":{"name":"hlab"},"transform":[{"filter":"datum.lv==='u'"}],
 "mark":{"type":"rect","fill":"#f2e5c7","stroke":"#ffffff","strokeWidth":1.5},
 "encoding":{"x":{"field":"c","type":"quantitative","axis":null},"x2":{"field":"c1"},"y":{"datum":-1.5,"type":"quantitative"},"y2":{"datum":-0.5}}}
]},
{"layer":[
{"data":{"name":"cells"},"transform":[{"filter":"datum.k==='m'"}],
 "mark":{"type":"text","fontSize":11.5,"color":"#eeb5b5"},
 "encoding":{
  "x":{"field":"c","type":"quantitative","scale":{"domain":[-0.5,0.5,1.5,2.5,3.5,4.5,5.5,6.5,7.5,8.5,9.5,10.5,11.5,12.5,13.5,14.5,15.5,16.5,17.5,18.5,19.5,20.5,21.5,22.5,23.5,24.5,25.5,26.5,27.5,28.5,29.5,30.5,31.5,32.5,33.5,34.5,35.5,36.5,37.5,38.5,39.5,40.5,41.5],"range":[0,55.5,90,124.5,157.5,181.25,205,228.75,252.5,276.25,300,323.75,347.5,371.25,395,421,446.5,475,502,535,559.5,584.5,608.6,633.2,658,682.5,707.5,730.5,755,789,812.75,836.5,860.25,884,907.75,931.5,955.25,979,1002.75,1026.5,1059.5,1092.5,1125],"nice":false,"zero":false},
   "axis":{"values":[-0.5,0.5,1.5,2.5,3.5,4.5,5.5,6.5,7.5,8.5,9.5,10.5,11.5,12.5,13.5,14.5,15.5,16.5,17.5,18.5,19.5,20.5,21.5,22.5,23.5,24.5,25.5,26.5,27.5,28.5,29.5,30.5,31.5,32.5,33.5,34.5,35.5,36.5,37.5,38.5,39.5,40.5,41.5],"grid":true,"labels":false,"ticks":false,"domain":false,"title":null,"gridOpacity":1,
    "gridColor":{"condition":{"test":"indexof([0.5,1.5,2.5,3.5,13.5,15.5,18.5,20.5,22.5,24.5,27.5,28.5,38.5,39.5,40.5],datum.value)>=0","value":"#d9d9d9"},"value":"#ffffff"},
    "gridWidth":{"condition":{"test":"indexof([0.5,1.5,2.5,3.5,13.5,15.5,18.5,20.5,22.5,24.5,27.5,28.5,38.5,39.5,40.5],datum.value)>=0","value":2},"value":1}}},
  "y":{"field":"r","type":"quantitative","scale":{"domain":[-4.5,-3.5,-2.5,-0.5,29.5],"range":[0,38.5,72,111.5,829],"nice":false,"zero":false},
   "axis":{"values":[-0.5,0.5,1.5,2.5,3.5,4.5,5.5,6.5,7.5,8.5,9.5,10.5,11.5,12.5,13.5,14.5,15.5,16.5,17.5,18.5,19.5,20.5,21.5,22.5,23.5,24.5,25.5,26.5,27.5,28.5,29.5],"grid":true,"labels":false,"ticks":false,"domain":false,"title":null,"gridOpacity":1,
    "gridColor":{"condition":{"test":"indexof([4.5,9.5,14.5,19.5,24.5,29.5],datum.value)>=0","value":"#d9d9d9"},"value":"#ffffff"},
    "gridWidth":{"condition":{"test":"indexof([4.5,9.5,14.5,19.5,24.5,29.5],datum.value)>=0","value":2},"value":1}}},
  "text":{"field":"v","type":"nominal"}}},
{"data":{"values":[{}]},"mark":{"type":"rect","fill":"#fafafa"},
 "encoding":{"x":{"datum":-0.5,"type":"quantitative"},"x2":{"datum":41.5},"y":{"datum":-4.5,"type":"quantitative"},"y2":{"datum":-2.5}}},
{"data":{"values":[{}]},"mark":{"type":"rect","stroke":"#dcdcdc","strokeWidth":1.5,"fill":{"gradient":"linear","x1":0,"y1":0,"x2":0,"y2":1,"stops":[{"offset":0,"color":"#ffffff"},{"offset":1,"color":"#ebebeb"}]}},
 "encoding":{"x":{"datum":-0.5,"type":"quantitative"},"x2":{"datum":41.5},"y":{"datum":-4.48,"type":"quantitative"},"y2":{"datum":-3.5}}},
{"data":{"values":[{}]},"mark":{"type":"text","font":"Noto Sans CJK SC","fontSize":17,"fontWeight":"bold","color":"#c42b36","align":"left"},
 "encoding":{"x":{"datum":-0.27,"type":"quantitative"},"y":{"datum":-3.97,"type":"quantitative"},"text":{"value":"福彩3D十位走势图"}}},
{"data":{"values":[{}]},"mark":{"type":"text","font":"Noto Sans CJK SC","fontSize":13.5,"fontWeight":"bold","color":"#c9252f","align":"left"},
 "encoding":{"x":{"datum":19.96,"type":"quantitative"},"y":{"datum":-3.93,"type":"quantitative"},"text":{"value":"最近30期"}}},
{"data":{"values":[{}]},"mark":{"type":"text","font":"Noto Sans CJK SC","fontSize":13.5,"color":"#2d62b0","align":"left"},
 "encoding":{"x":{"datum":22.71,"type":"quantitative"},"y":{"datum":-3.93,"type":"quantitative"},"text":{"value":"最近60期"}}},
{"data":{"values":[{}]},"mark":{"type":"text","font":"Noto Sans CJK SC","fontSize":13.5,"color":"#2d62b0","align":"left"},
 "encoding":{"x":{"datum":25.4,"type":"quantitative"},"y":{"datum":-3.93,"type":"quantitative"},"text":{"value":"最近120期"}}},
{"data":{"values":[{}]},"mark":{"type":"rect","fill":"#ffffff","stroke":"#767676","strokeWidth":1,"cornerRadius":2},
 "encoding":{"x":{"datum":28.35,"type":"quantitative"},"x2":{"datum":30.92},"y":{"datum":-4.144,"type":"quantitative"},"y2":{"datum":-3.658}}},
{"data":{"values":[{}]},"mark":{"type":"text","font":"Noto Sans CJK SC","fontSize":14,"color":"#000000","align":"left"},
 "encoding":{"x":{"datum":28.46,"type":"quantitative"},"y":{"datum":-3.93,"type":"quantitative"},"text":{"value":"选年份"}}},
{"data":{"values":[{}]},"mark":{"type":"point","shape":"M-1,-0.45L0,0.45L1,-0.45","size":100,"filled":false,"stroke":"#000000","strokeWidth":2,"opacity":1},
 "encoding":{"x":{"datum":30.63,"type":"quantitative"},"y":{"datum":-3.91,"type":"quantitative"}}},
{"data":{"values":[{}]},"mark":{"type":"rect","fill":"#ffffff","stroke":"#767676","strokeWidth":1},
 "encoding":{"x":{"datum":31.6,"type":"quantitative"},"x2":{"datum":34.37},"y":{"datum":-4.173,"type":"quantitative"},"y2":{"datum":-3.658}}},
{"data":{"values":[{}]},"mark":{"type":"text","fontSize":13.5,"color":"#000000"},
 "encoding":{"x":{"datum":32.98,"type":"quantitative"},"y":{"datum":-3.92,"type":"quantitative"},"text":{"value":"2025132"}}},
{"data":{"values":[{}]},"mark":{"type":"text","font":"Noto Sans CJK SC","fontSize":14,"color":"#000000"},
 "encoding":{"x":{"datum":34.82,"type":"quantitative"},"y":{"datum":-3.93,"type":"quantitative"},"text":{"value":"期"}}},
{"data":{"values":[{}]},"mark":{"type":"text","font":"Noto Sans CJK SC","fontSize":14,"color":"#000000"},
 "encoding":{"x":{"datum":35.99,"type":"quantitative"},"y":{"datum":-3.93,"type":"quantitative"},"text":{"value":"至"}}},
{"data":{"values":[{}]},"mark":{"type":"rect","fill":"#ffffff","stroke":"#767676","strokeWidth":1},
 "encoding":{"x":{"datum":36.5,"type":"quantitative"},"x2":{"datum":39.05},"y":{"datum":-4.173,"type":"quantitative"},"y2":{"datum":-3.658}}},
{"data":{"values":[{}]},"mark":{"type":"text","fontSize":13.5,"color":"#000000"},
 "encoding":{"x":{"datum":37.885,"type":"quantitative"},"y":{"datum":-3.92,"type":"quantitative"},"text":{"value":"2025161"}}},
{"data":{"values":[{}]},"mark":{"type":"text","font":"Noto Sans CJK SC","fontSize":14,"color":"#000000"},
 "encoding":{"x":{"datum":39.35,"type":"quantitative"},"y":{"datum":-3.93,"type":"quantitative"},"text":{"value":"期"}}},
{"data":{"values":[{}]},"mark":{"type":"rect","stroke":"#e39a63","strokeWidth":1,"cornerRadius":2,"fill":{"gradient":"linear","x1":0,"y1":0,"x2":0,"y2":1,"stops":[{"offset":0,"color":"#fde3cc"},{"offset":1,"color":"#f6b98a"}]}},
 "encoding":{"x":{"datum":40.06,"type":"quantitative"},"x2":{"datum":41.11},"y":{"datum":-4.11,"type":"quantitative"},"y2":{"datum":-3.677}}},
{"data":{"values":[{}]},"mark":{"type":"text","font":"Noto Sans CJK SC","fontSize":13,"color":"#b8402c"},
 "encoding":{"x":{"datum":40.58,"type":"quantitative"},"y":{"datum":-3.9,"type":"quantitative"},"text":{"value":"查看"}}},
{"data":{"values":[{}]},"mark":{"type":"text","font":"Noto Sans CJK SC","fontSize":13.5,"color":"#333333","align":"left"},
 "encoding":{"x":{"datum":13.18,"type":"quantitative"},"y":{"datum":-3,"type":"quantitative"},"text":{"value":"标注形式选择："}}},
{"data":{"values":[{}]},"mark":{"type":"point","shape":"square","size":121,"filled":true,"fill":"#ffffff","stroke":"#767676","strokeWidth":1,"opacity":1},
 "encoding":{"x":{"datum":17.16,"type":"quantitative"},"y":{"datum":-3,"type":"quantitative"}}},
{"data":{"values":[{}]},"mark":{"type":"text","font":"Noto Sans CJK SC","fontSize":13.5,"color":"#333333","align":"left"},
 "encoding":{"x":{"datum":17.55,"type":"quantitative"},"y":{"datum":-3,"type":"quantitative"},"text":{"value":"不带遗漏数据"}}},
{"data":{"values":[{}]},"mark":{"type":"point","shape":"square","size":121,"filled":true,"fill":"#1a6fe6","stroke":"#1a6fe6","strokeWidth":1,"opacity":1},
 "encoding":{"x":{"datum":21.2,"type":"quantitative"},"y":{"datum":-3,"type":"quantitative"}}},
{"data":{"values":[{}]},"mark":{"type":"point","shape":"M-0.6,0L-0.15,0.45L0.65,-0.5","size":121,"filled":false,"stroke":"#ffffff","strokeWidth":1.8,"opacity":1},
 "encoding":{"x":{"datum":21.2,"type":"quantitative"},"y":{"datum":-3,"type":"quantitative"}}},
{"data":{"values":[{}]},"mark":{"type":"text","font":"Noto Sans CJK SC","fontSize":13.5,"color":"#333333","align":"left"},
 "encoding":{"x":{"datum":21.56,"type":"quantitative"},"y":{"datum":-3,"type":"quantitative"},"text":{"value":"带折线"}}},
{"data":{"values":[{}]},"mark":{"type":"point","shape":"square","size":121,"filled":true,"fill":"#ffffff","stroke":"#767676","strokeWidth":1,"opacity":1},
 "encoding":{"x":{"datum":23.92,"type":"quantitative"},"y":{"datum":-3,"type":"quantitative"}}},
{"data":{"values":[{}]},"mark":{"type":"text","font":"Noto Sans CJK SC","fontSize":13.5,"color":"#333333","align":"left"},
 "encoding":{"x":{"datum":24.32,"type":"quantitative"},"y":{"datum":-3,"type":"quantitative"},"text":{"value":"遗漏分层"}}},
{"data":{"name":"hlab"},"transform":[{"filter":"datum.lv==='s'"}],
 "mark":{"type":"text","font":"Noto Sans CJK SC","fontSize":13,"fontWeight":"bold","color":"#222222"},
 "encoding":{"x":{"field":"c","type":"quantitative"},"y":{"datum":-1.5,"type":"quantitative"},"text":{"field":"lab","type":"nominal"}}},
{"data":{"name":"hlab"},"transform":[{"filter":"datum.lv==='u'"}],
 "mark":{"type":"text","font":"Noto Sans CJK SC","fontSize":13,"fontWeight":"bold","color":"#222222"},
 "encoding":{"x":{"field":"c","type":"quantitative"},"y":{"datum":-1,"type":"quantitative"},"text":{"field":"lab","type":"nominal"}}},
{"data":{"name":"hlab"},"transform":[{"filter":"datum.lv==='u'"},{"aggregate":[{"op":"mean","field":"c","as":"mc"}],"groupby":["g"]}],
 "mark":{"type":"text","font":"Noto Sans CJK SC","fontSize":13,"fontWeight":"bold","color":"#222222"},
 "encoding":{"x":{"field":"mc","type":"quantitative"},"y":{"datum":-2,"type":"quantitative"},"text":{"field":"g","type":"nominal"}}},
{"data":{"values":[{}]},"mark":{"type":"text","font":"DejaVu Sans","fontSize":6,"color":"#d0302f"},
 "encoding":{"x":{"datum":0.29,"type":"quantitative"},"y":{"datum":-1.72,"type":"quantitative"},"text":{"value":"▲"}}},
{"data":{"values":[{}]},"mark":{"type":"text","font":"DejaVu Sans","fontSize":6,"color":"#777777"},
 "encoding":{"x":{"datum":0.29,"type":"quantitative"},"y":{"datum":-1.42,"type":"quantitative"},"text":{"value":"▼"}}},
{"data":{"name":"draws"},"mark":{"type":"text","fontSize":11.5,"color":"#222222"},
 "encoding":{"x":{"datum":0,"type":"quantitative"},"y":{"field":"r","type":"quantitative"},"text":{"field":"qh","type":"nominal"}}},
{"data":{"name":"draws"},"mark":{"type":"text","fontSize":12.5,"color":"#000000"},
 "encoding":{"x":{"datum":1,"type":"quantitative"},"y":{"field":"r","type":"quantitative"},"text":{"field":"sj","type":"nominal"}}},
{"data":{"name":"draws"},"transform":[{"filter":"datum.zx==='组三'"}],
 "mark":{"type":"point","shape":"M-1.39,-0.89H1.39V0.89H-1.39Z","size":324,"filled":true,"color":"#e2b06b","opacity":1},
 "encoding":{"x":{"datum":2,"type":"quantitative"},"y":{"field":"r","type":"quantitative"}}},
{"data":{"name":"draws"},"mark":{"type":"text","fontSize":12.5},
 "encoding":{"x":{"datum":2,"type":"quantitative"},"y":{"field":"r","type":"quantitative"},"text":{"field":"jh","type":"nominal"},
  "color":{"condition":{"test":"datum.zx==='组三'","value":"#ffffff"},"value":"#000000"}}},
{"data":{"name":"draws"},"mark":{"type":"text","fontSize":12.5,"color":"#df5b5b"},
 "encoding":{"x":{"datum":3,"type":"quantitative"},"y":{"field":"r","type":"quantitative"},"text":{"field":"sw","type":"nominal"}}},
{"data":{"name":"cells"},"transform":[{"filter":"datum.k==='h'"}],
 "mark":{"type":"line","color":"#c94a58","strokeWidth":2.2,"opacity":0.9},
 "encoding":{"x":{"field":"c","type":"quantitative"},"y":{"field":"r","type":"quantitative"},"order":{"field":"r","type":"quantitative"}}},
{"data":{"name":"cells"},"transform":[{"filter":"datum.k==='h'"}],
 "mark":{"type":"point","shape":"circle","size":256,"filled":true,"color":"#b5192c","opacity":1},
 "encoding":{"x":{"field":"c","type":"quantitative"},"y":{"field":"r","type":"quantitative"}}},
{"data":{"name":"cells"},"transform":[{"filter":"datum.k==='h'"}],
 "mark":{"type":"text","fontSize":12,"fontWeight":"bold","color":"#ffffff"},
 "encoding":{"x":{"field":"c","type":"quantitative"},"y":{"field":"r","type":"quantitative"},"text":{"field":"v","type":"nominal"}}},
{"data":{"name":"cells"},"transform":[{"filter":"datum.k==='g'"}],
 "mark":{"type":"text","fontSize":11.5,"color":"#bcbcbc"},
 "encoding":{"x":{"field":"c","type":"quantitative"},"y":{"field":"r","type":"quantitative"},"text":{"field":"v","type":"nominal"}}},
{"data":{"name":"cells"},"transform":[{"filter":"datum.k==='o' || datum.k==='t'"}],
 "mark":{"type":"point","shape":"square","size":240,"filled":true,"opacity":1},
 "encoding":{"x":{"field":"c","type":"quantitative"},"y":{"field":"r","type":"quantitative"},
  "color":{"condition":{"test":"datum.k==='o'","value":"#e2b06b"},"value":"#8cbdbd"}}},
{"data":{"name":"cells"},"transform":[{"filter":"datum.k==='o' || datum.k==='t'"}],
 "mark":{"type":"text","font":"Noto Sans CJK SC","fontSize":12.5,"fontWeight":"bold","color":"#ffffff"},
 "encoding":{"x":{"field":"c","type":"quantitative"},"y":{"field":"r","type":"quantitative"},"text":{"field":"v","type":"nominal"}}},
{"data":{"name":"draws"},"mark":{"type":"text","fontSize":12.5,"color":"#000000"},
 "encoding":{"x":{"datum":18,"type":"quantitative"},"y":{"field":"r","type":"quantitative"},"text":{"field":"jz","type":"nominal"}}},
{"data":{"name":"draws"},"mark":{"type":"text","fontSize":12.5,"color":"#000000"},
 "encoding":{"x":{"datum":28,"type":"quantitative"},"y":{"field":"r","type":"quantitative"},"text":{"field":"zf","type":"nominal"}}},
{"data":{"name":"cells"},"transform":[{"filter":"datum.k==='a'"}],
 "mark":{"type":"text","fontSize":11.5,"color":"#c3c3c3"},
 "encoding":{"x":{"field":"c","type":"quantitative"},"y":{"field":"r","type":"quantitative"},"text":{"field":"v","type":"nominal"}}},
{"data":{"name":"cells"},"transform":[{"filter":"datum.k==='ah'"}],
 "mark":{"type":"line","color":"#7aa9a9","strokeWidth":2.2,"opacity":0.95},
 "encoding":{"x":{"field":"c","type":"quantitative"},"y":{"field":"r","type":"quantitative"},"order":{"field":"r","type":"quantitative"}}},
{"data":{"name":"cells"},"transform":[{"filter":"datum.k==='ah'"}],
 "mark":{"type":"point","shape":"circle","size":256,"filled":true,"color":"#76a6a6","opacity":1},
 "encoding":{"x":{"field":"c","type":"quantitative"},"y":{"field":"r","type":"quantitative"}}},
{"data":{"name":"cells"},"transform":[{"filter":"datum.k==='ah'"}],
 "mark":{"type":"text","fontSize":12,"fontWeight":"bold","color":"#ffffff"},
 "encoding":{"x":{"field":"c","type":"quantitative"},"y":{"field":"r","type":"quantitative"},"text":{"field":"v","type":"nominal"}}},
{"data":{"name":"draws"},"mark":{"type":"text","fontSize":12.5,"color":"#000000"},
 "encoding":{"x":{"datum":39,"type":"quantitative"},"y":{"field":"r","type":"quantitative"},"text":{"field":"hz","type":"nominal"}}},
{"data":{"name":"draws"},"mark":{"type":"text","fontSize":12.5,"color":"#000000"},
 "encoding":{"x":{"datum":40,"type":"quantitative"},"y":{"field":"r","type":"quantitative"},"text":{"field":"hw","type":"nominal"}}},
{"data":{"name":"draws"},"mark":{"type":"text","fontSize":12.5,"color":"#000000"},
 "encoding":{"x":{"datum":41,"type":"quantitative"},"y":{"field":"r","type":"quantitative"},"text":{"field":"kd","type":"nominal"}}}
]}
],
"resolve":{"scale":{"x":"independent"}}
}
